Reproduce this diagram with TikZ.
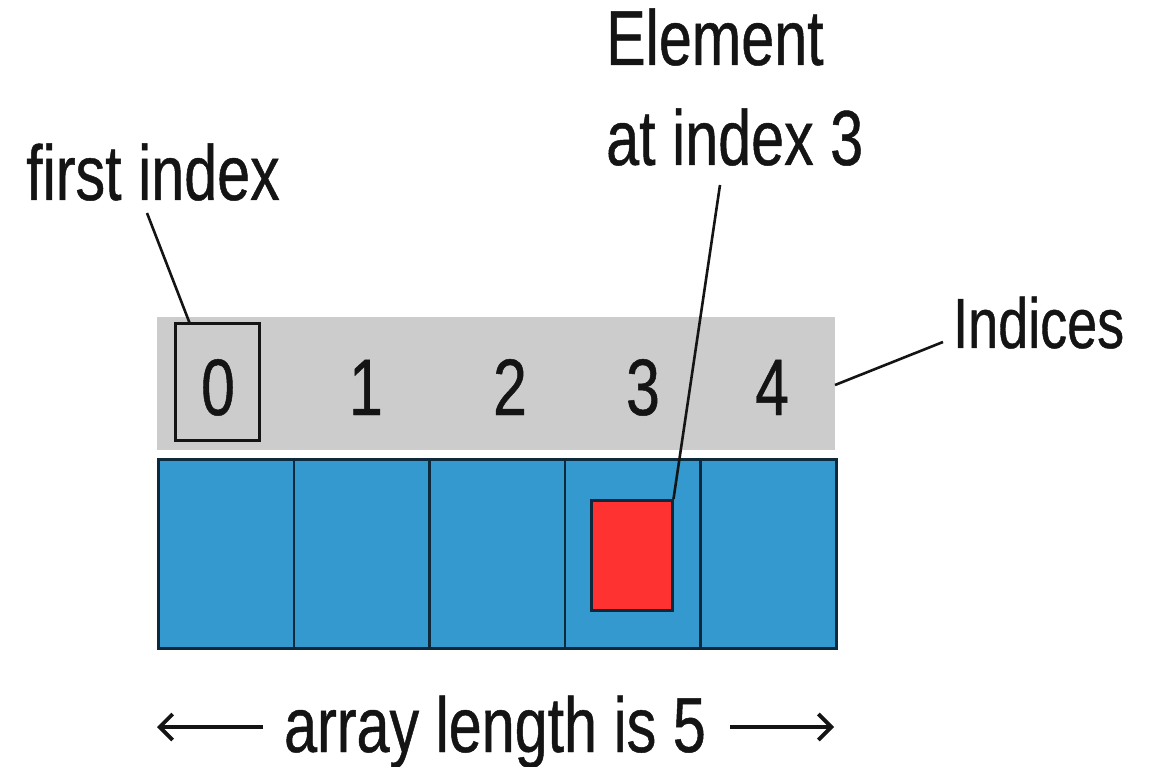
\documentclass[tikz,border=0pt]{standalone}
\usepackage{fontspec}
\setmainfont[FakeStretch=0.76,FakeBold=0.6]{Liberation Sans}
\usetikzlibrary{arrows.meta}
\definecolor{cellblue}{RGB}{52,153,206}
\definecolor{cellred}{RGB}{255,50,50}
\definecolor{band}{RGB}{204,204,204}
\definecolor{ink}{RGB}{20,20,20}
\definecolor{cellline}{RGB}{14,40,60}
\tikzset{
  lbl/.style={inner sep=0pt, text=ink, font=\fontsize{78}{90}\selectfont, anchor=base},
  digit/.style={inner sep=0pt, text=ink, font=\fontsize{80}{90}\selectfont, anchor=base},
  cell/.style={draw=cellline, line width=2.5pt, fill=cellblue, minimum width=135.6pt, minimum height=189pt, inner sep=0pt, anchor=north west},
  leader/.style={draw=ink, line width=2.6pt},
  lenarrow/.style={draw=ink, line width=3.8pt, -{Straight Barb[length=13pt,width=26pt,line width=3.8pt]}}
}
\begin{document}
\begin{tikzpicture}[x=1pt,y=-1pt]
\useasboundingbox (0,0) rectangle (1152,767);
% index band
\node[fill=band, inner sep=0pt, minimum width=678pt, minimum height=133pt, anchor=north west] (band) at (157,317) {};
% cells
\foreach \i/\x in {0/157,1/292.6,2/428.2,3/563.8,4/699.4}{
  \node[cell] (c\i) at (\x,458) {};
}
% red element
\node[draw=cellline, line width=2.5pt, fill=cellred, minimum width=81pt, minimum height=110pt, inner sep=0pt, anchor=north west] (red) at (590,499) {};
% box round first index
\node[draw=ink, line width=3pt, minimum width=84pt, minimum height=116pt, inner sep=0pt] (b0) at (217,382) {};
% digits
\node[digit] (d0) at (218,415) {0};
\node[digit] (d1) at (366,415) {1};
\node[digit] (d2) at (510,415) {2};
\node[digit] (d3) at (643,415) {3};
\node[digit] (d4) at (772,415) {4};
% labels
\node[lbl] (first) at (153,200) {first index};
\node[lbl, anchor=base west] (elem1) at (606,65) {Element};
\node[lbl, anchor=base west] (elem2) at (606,165) {at index 3};
\node[lbl, font=\fontsize{71}{80}\selectfont, anchor=base west] (ind) at (953,348) {Indices};
\node[lbl] (len) at (495,752) {array length is 5};
% leader lines
\coordinate (fistart) at (147,213);
\coordinate (b0top) at (190,324);
\draw[leader] (fistart) -- (b0top);
\coordinate (elstart) at (720,185);
\draw[leader] (elstart) -- (red.north east);
\coordinate (indstart) at (943,342);
\coordinate (bandedge) at (835,385);
\draw[leader] (indstart) -- (bandedge);
% length arrows
\coordinate (la0) at (263,727);
\coordinate (la1) at (157,727);
\coordinate (ra0) at (730,727);
\coordinate (ra1) at (834,727);
\draw[lenarrow] (la0) -- (la1);
\draw[lenarrow] (ra0) -- (ra1);
\end{tikzpicture}
\end{document}
